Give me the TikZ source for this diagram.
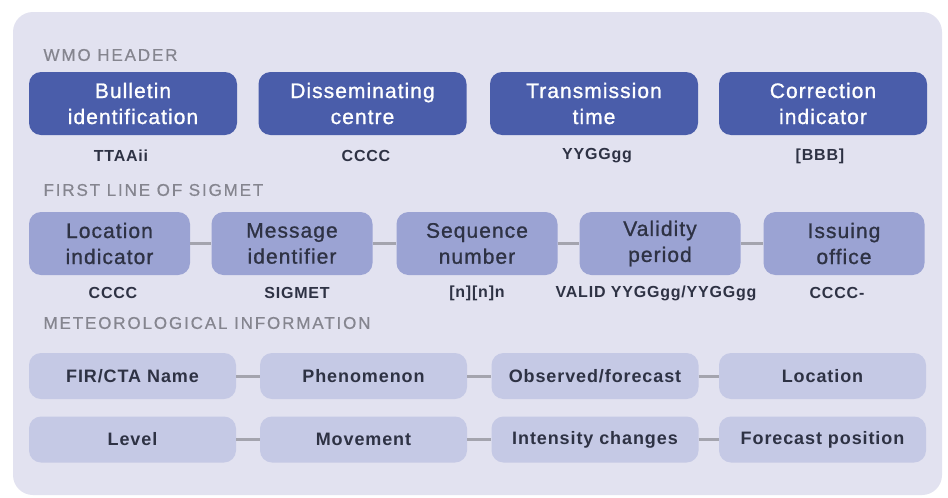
\documentclass[tikz,border=0pt]{standalone}
\usepackage{fontspec}
\setmainfont{Liberation Sans}
\newfontfamily\boxfont[LetterSpace=5]{Liberation Sans}
\newfontfamily\medfont[LetterSpace=5,FakeBold=1]{Liberation Sans}
\newfontfamily\headfont[LetterSpace=11,FakeBold=0.6]{Liberation Sans}
\definecolor{panel}{HTML}{E2E2F0}
\definecolor{darkbox}{HTML}{4A5DAA}
\definecolor{midbox}{HTML}{9BA3D3}
\definecolor{lightbox}{HTML}{C5C9E5}
\definecolor{linkgray}{HTML}{A4A4AE}
\definecolor{headgray}{HTML}{85858F}
\definecolor{darktext}{HTML}{2E3244}
\begin{document}
\begin{tikzpicture}[x=1pt,y=-1pt,
  boxbase/.style={rounded corners=12pt, inner sep=0pt, align=center, anchor=center},
  hdrbox/.style={boxbase, fill=darkbox, text=white, minimum width=208pt, minimum height=63pt, font=\medfont\fontsize{21}{26}\selectfont},
  sigbox/.style={boxbase, fill=midbox, text=darktext, minimum width=161pt, minimum height=63pt, font=\medfont\fontsize{21}{26}\selectfont},
  metbox/.style={boxbase, fill=lightbox, text=darktext, minimum width=207pt, minimum height=46pt, font=\boxfont\bfseries\fontsize{18}{22}\selectfont},
  codelabel/.style={text=darktext, font=\boxfont\bfseries\fontsize{16}{19}\selectfont, anchor=center},
  sectionhead/.style={text=headgray, font=\headfont\fontsize{17}{20}\selectfont, anchor=west},
  link/.style={draw=linkgray, line width=3pt}
]
\useasboundingbox (0,0) rectangle (948,498);
\fill[white] (0,0) rectangle (948,498);
\fill[panel, rounded corners=20pt] (13,12) rectangle (942,495);

% WMO header
\node[sectionhead] (h1) at (40,55) {WMO HEADER};
\node[hdrbox] (b1) at (133,103.5) {Bulletin\\identification};
\node[hdrbox] (b2) at (362.5,103.5) {Disseminating\\centre};
\node[hdrbox] (b3) at (594,103.5) {Transmission\\time};
\node[hdrbox] (b4) at (823,103.5) {Correction\\indicator};
\node[codelabel] (lb1) at (121,156) {TTAAii};
\node[codelabel] (lb2) at (366,156) {CCCC};
\node[codelabel] (lb3) at (597,156) {YYGGgg};
\node[codelabel] (lb4) at (820,156) {[BBB]};

% First line of SIGMET
\node[sectionhead] (h2) at (40,190) {FIRST LINE OF SIGMET};
\node[sigbox] (c1) at (109.5,243.5) {Location\\indicator};
\node[sigbox] (c2) at (292,243.5) {Message\\identifier};
\node[sigbox] (c3) at (477,243.5) {Sequence\\number};
\node[sigbox] (c4) at (660,243.5) {Validity\\period};
\node[sigbox] (c5) at (844,243.5) {Issuing\\office};
\draw[link] (c1) -- (c2);
\draw[link] (c2) -- (c3);
\draw[link] (c3) -- (c4);
\draw[link] (c4) -- (c5);
\node[codelabel] (lc1) at (113,293) {CCCC};
\node[codelabel] (lc2) at (297,293) {SIGMET};
\node[codelabel] (lc3) at (477,293) {[n][n]n};
\node[codelabel] (lc4) at (656,293) {VALID YYGGgg/YYGGgg};
\node[codelabel] (lc5) at (837,293) {CCCC-};

% Meteorological information
\node[sectionhead] (h3) at (40,323) {METEOROLOGICAL INFORMATION};
\node[metbox] (d1) at (132.5,376) {FIR/CTA Name};
\node[metbox] (d2) at (363.5,376) {Phenomenon};
\node[metbox] (d3) at (595,376) {Observed/forecast};
\node[metbox] (d4) at (822.5,376) {Location};
\draw[link] (d1) -- (d2);
\draw[link] (d2) -- (d3);
\draw[link] (d3) -- (d4);
\node[metbox] (e1) at (132.5,439.5) {Level};
\node[metbox] (e2) at (363.5,439.5) {Movement};
\node[metbox] (e3) at (595,439.5) {Intensity changes};
\node[metbox] (e4) at (822.5,439.5) {Forecast position};
\draw[link] (e1) -- (e2);
\draw[link] (e2) -- (e3);
\draw[link] (e3) -- (e4);
\end{tikzpicture}
\end{document}
